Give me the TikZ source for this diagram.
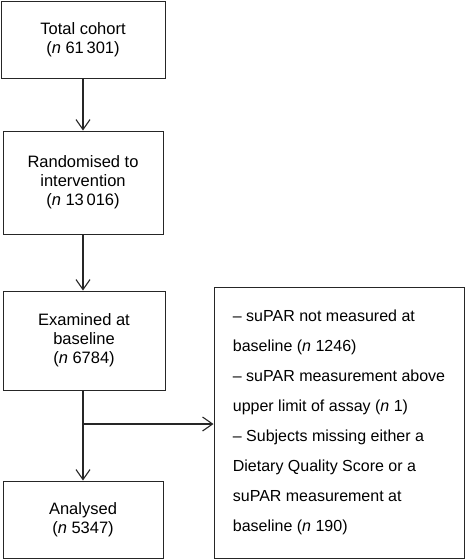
\documentclass[tikz,border=0pt]{standalone}
\usepackage{fontspec}
\setmainfont{Liberation Sans}
\usetikzlibrary{arrows.meta}
\begin{document}
\begin{tikzpicture}[x=1pt,y=-1pt,
  box/.style={draw=black!85, line width=1pt, inner sep=0pt, align=center,
    font=\fontsize{16.5}{19}\selectfont},
  listbox/.style={draw=black!85, line width=1pt, inner sep=0pt, align=left,
    font=\fontsize{16}{30}\selectfont},
  conn/.style={draw=black!85, line width=1.1pt},
  arr/.style={conn, -{Straight Barb[length=10pt,width=14pt,line width=1.1pt]}}]
\useasboundingbox (0,0) rectangle (465,560);
\node[box, minimum width=164pt, minimum height=77pt] (b1) at (83,39.5)
  {Total cohort\\(\textit{n} 61\,301)};
\node[box, minimum width=160pt, minimum height=103pt] (b2) at (83,182.5)
  {Randomised to\\intervention\\(\textit{n} 13\,016)};
\node[box, minimum width=162pt, minimum height=99pt] (b3) at (84,340.5)
  {Examined at\\baseline\\(\textit{n} 6784)};
\node[box, minimum width=160pt, minimum height=77pt] (b4) at (83,519.5)
  {Analysed\\(\textit{n} 5347)};
\node[listbox, minimum width=250pt, minimum height=271pt] (r) at (339,422.5)
  {-- suPAR not measured at\\baseline (\textit{n} 1246)\\-- suPAR measurement above\\upper limit of assay (\textit{n} 1)\\-- Subjects missing either a\\Dietary Quality Score or a\\suPAR measurement at\\baseline (\textit{n} 190)};
\coordinate (br) at (83,424);
\draw[arr] (b1.south -| 83,0) -- (b2.north -| 83,0);
\draw[arr] (b2.south -| 83,0) -- (b3.north -| 83,0);
\draw[arr] (b3.south -| 83,0) -- (b4.north -| 83,0);
\draw[arr] (br) -- (br -| r.west);
\end{tikzpicture}
\end{document}
